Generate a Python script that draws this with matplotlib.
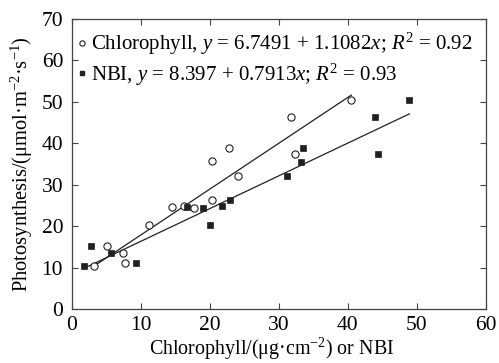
import matplotlib
matplotlib.use("Agg")
import matplotlib.pyplot as plt
from matplotlib.lines import Line2D
import numpy as np

plt.rcParams['font.family'] = ['Liberation Serif', 'DejaVu Serif']
plt.rcParams['mathtext.fontset'] = 'custom'
plt.rcParams['mathtext.rm'] = 'Liberation Serif'
plt.rcParams['mathtext.it'] = 'Liberation Serif:italic'

chl_x = [3.3, 5.2, 7.5, 7.8, 11.2, 14.6, 16.3, 17.7, 20.3, 20.3, 22.8, 24.1, 31.8, 32.3, 40.5]
chl_y = [10.4, 15.3, 13.6, 11.2, 20.2, 24.7, 24.9, 24.3, 26.3, 35.7, 38.8, 32.0, 46.4, 37.5, 50.4]
nbi_x = [1.8, 2.8, 5.7, 9.4, 16.7, 19.0, 20.1, 21.8, 23.0, 31.2, 33.2, 33.5, 44.0, 44.4, 48.9]
nbi_y = [10.4, 15.1, 13.5, 11.2, 24.7, 24.3, 20.2, 24.9, 26.3, 32.0, 35.6, 38.8, 46.4, 37.4, 50.4]
chl_fit = (6.7491, 1.1082)
nbi_fit = (8.397, 0.7913)
chl_label = 'Chlorophyll, $y$ = 6.7491 + 1.1082$x$; $R^{2}$ = 0.92'
nbi_label = 'NBI, $y$ = 8.397 + 0.7913$x$; $R^{2}$ = 0.93'
xticks = [0, 10, 20, 30, 40, 50, 60]
yticks = [0, 10, 20, 30, 40, 50, 60, 70]

fig = plt.figure(figsize=(4.99, 3.63), dpi=100)
ax = fig.add_axes([71.5/499, 1 - 309/363, (486 - 71.5)/499, (309 - 19)/363])

lc = '#231f20'
for xs, (a, b) in [(chl_x, chl_fit), (nbi_x, nbi_fit)]:
    xx = np.array([min(xs), max(xs)])
    ax.plot(xx, a + b * xx, color=lc, lw=0.9, zorder=2)

ax.plot(chl_x, chl_y, 'o', ms=5.2, mfc='white', mec=lc, mew=0.8, zorder=3)
ax.plot(nbi_x, nbi_y, 's', ms=4.4, mfc=lc, mec=lc, mew=0.5, zorder=3)

ax.set_xlim(0, 60)
ax.set_ylim(0, 70)
ax.set_xticks(xticks)
ax.set_yticks(yticks)
ax.tick_params(direction='in', length=4, width=0.8, color='#444444',
               top=True, right=True, labelsize=15.5)
ax.tick_params(axis='y', pad=6)
ax.tick_params(axis='x', pad=5)
for s in ax.spines.values():
    s.set_color('#444444')
    s.set_linewidth(0.9)

ax.set_xlabel('Chlorophyll/(μg·cm$^{-2}$) or NBI', fontsize=14.4)
ax.xaxis.set_label_coords((272 - 71.5) / 414.5, (309 - 336) / 290)
ax.set_ylabel('Photosynthesis/(μmol·m$^{-2}$·s$^{-1}$)', fontsize=14.8, labelpad=5)

handles = [Line2D([], [], ls='none', marker='o', ms=3.8, mfc='white', mec=lc, mew=0.8),
           Line2D([], [], ls='none', marker='s', ms=3.4, mfc=lc, mec=lc)]
ax.legend(handles, [chl_label, nbi_label], loc='upper left', frameon=False,
          fontsize=15, handlelength=0.6, handletextpad=0.15, borderaxespad=0.0,
          borderpad=0.0, labelspacing=0.2,
          bbox_to_anchor=(4/414.5, 1 - 12/290))

fig.savefig('out.png', dpi=100)
